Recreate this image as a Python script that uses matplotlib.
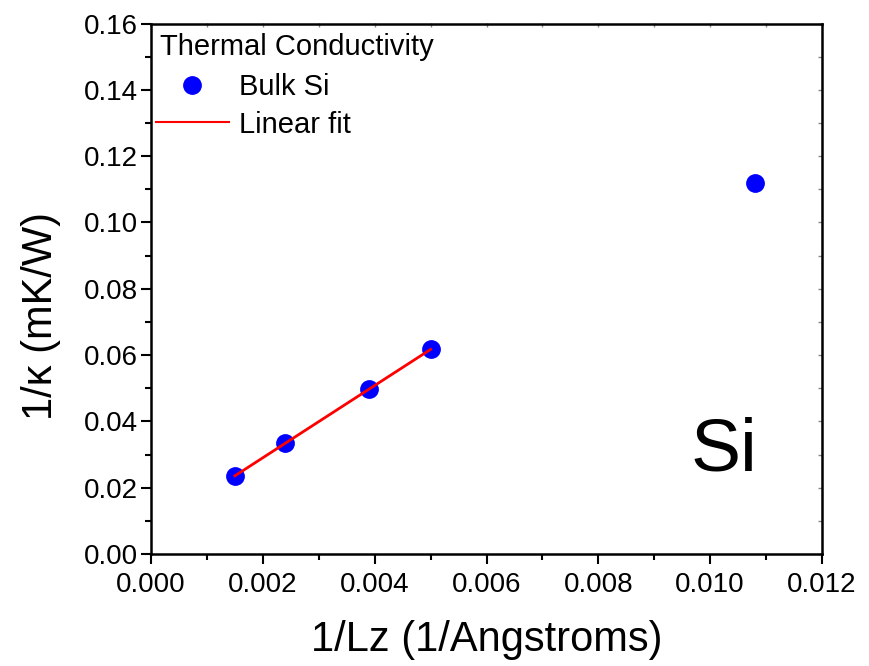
import matplotlib
matplotlib.use("Agg")
import matplotlib.pyplot as plt
import matplotlib.ticker as mticker
import numpy as np
from matplotlib.lines import Line2D

plt.rcParams['font.family'] = ['Liberation Sans', 'DejaVu Sans']

inv_lz = [0.0015, 0.0024, 0.0039, 0.0050, 0.0108]
inv_kappa = [0.0235, 0.0335, 0.0497, 0.0617, 0.1120]
fit_n = 4  # number of points used in the linear fit

xticks = [0.000, 0.002, 0.004, 0.006, 0.008, 0.010, 0.012]
yticks = [0.00, 0.02, 0.04, 0.06, 0.08, 0.10, 0.12, 0.14, 0.16]

fig = plt.figure(figsize=(8.69, 6.66), dpi=100)
ax = fig.add_axes([151/869, 1-554/666, (822-151)/869, (554-23.5)/666])

ax.plot(inv_lz, inv_kappa, 'o', color='#0000ff', markersize=12.5, zorder=3, clip_on=False)
coef = np.polyfit(inv_lz[:fit_n], inv_kappa[:fit_n], 1)
xf = np.array([inv_lz[0], inv_lz[fit_n-1]])
ax.plot(xf, np.polyval(coef, xf), '-', color='#ff0000', lw=2, zorder=4)

ax.set_xlim(0, 0.012)
ax.set_ylim(0, 0.16)
ax.set_xticks(xticks)
ax.set_xticklabels([f"{v:.3f}" for v in xticks])
ax.set_yticks(yticks)
ax.set_yticklabels([f"{v:.2f}" for v in yticks])
ax.xaxis.set_minor_locator(mticker.MultipleLocator(0.001))
ax.yaxis.set_minor_locator(mticker.MultipleLocator(0.01))

ax.tick_params(which='major', direction='out', length=7.5, width=1.5, labelsize=20)
ax.tick_params(axis='x', which='major', pad=5.5)
ax.tick_params(axis='y', which='major', pad=2)
ax.tick_params(which='minor', direction='out', length=4, width=1.5)
for s in ax.spines.values():
    s.set_linewidth(1.8)

# inward ticks on top and right
sx = ax.secondary_xaxis('top')
sy = ax.secondary_yaxis('right')
sx.set_xticks(xticks)
sx.xaxis.set_minor_locator(mticker.MultipleLocator(0.001))
sy.set_yticks(yticks)
sy.yaxis.set_minor_locator(mticker.MultipleLocator(0.01))
for sec in (sx, sy):
    sec.tick_params(which='both', direction='in', length=3, width=1, colors='#888888',
                    labelleft=False, labelright=False, labeltop=False, labelbottom=False)
    for s in sec.spines.values():
        s.set_visible(False)

ax.set_xlabel('1/Lz (1/Angstroms)', fontsize=30, labelpad=16)
ax.set_ylabel('1/κ (mK/W)', fontsize=30)
ax.yaxis.set_label_coords(-0.134, 0.449)

ax.text(0.01025, 0.0253, 'Si', fontsize=54, ha='center', va='baseline')

ax.text(0.0134, 0.9406, 'Thermal Conductivity', fontsize=21, ha='left', va='baseline',
        transform=ax.transAxes)
handles = [Line2D([], [], marker='o', ls='none', color='#0000ff', markersize=12.5),
           Line2D([], [], color='#ff0000', lw=1.5)]
leg = ax.legend(handles, ['Bulk Si', 'Linear fit'],
                loc='upper left', bbox_to_anchor=(0.0075, 0.906), frameon=False,
                fontsize=21, borderaxespad=0, handlelength=2.5, handletextpad=0.35,
                labelspacing=0.32, borderpad=0)

fig.savefig('out.png', dpi=100)
